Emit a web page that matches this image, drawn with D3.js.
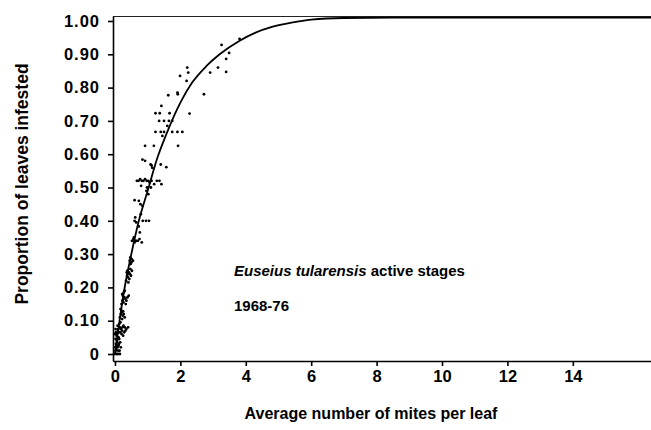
<!DOCTYPE html>
<html>
<head>
<meta charset="utf-8">
<script src="https://cdn.jsdelivr.net/npm/d3@7"></script>
<style>
  body { margin: 0; background: #fff; }
  text { font-family: "Liberation Sans", Arial, sans-serif; font-weight: bold; fill: #000; }
</style>
</head>
<body>
<div id="viz"></div>
<script>
// scatter points: average mites per leaf vs proportion of leaves infested
const miteX = [
  0.00, 0.02, 0.05, 0.08, 0.03, 0.10, 0.06, 0.12, 0.15, 0.01, 0.09, 0.18, 0.07, 0.13, 0.02, 0.16, 0.04, 0.11, 0.14, 0.06,
  0.00, 0.03, 0.06, 0.09, 0.12, 0.15, 0.18, 0.22, 0.26, 0.30, 0.35, 0.40, 0.08, 0.13, 0.20, 0.25, 0.11, 0.05, 0.28, 0.17,
  0.02, 0.10, 0.16, 0.23, 0.32,
  0.15, 0.18, 0.21, 0.24, 0.20, 0.27, 0.17, 0.30, 0.22, 0.25,
  0.20, 0.23, 0.26, 0.29, 0.24, 0.32, 0.27, 0.35, 0.22, 0.38, 0.30, 0.42, 0.25, 0.33,
  0.34, 0.37, 0.40, 0.43, 0.38, 0.46, 0.41, 0.49, 0.36, 0.44, 0.52, 0.39, 0.47,
  0.45, 0.48, 0.51, 0.47, 0.55, 0.50,
  0.52, 0.56, 0.60, 0.65, 0.58, 0.70, 0.75, 0.82, 0.62,
  0.76, 0.73, 0.60, 0.65, 0.85, 0.95, 1.04, 0.62, 0.79,
  0.60, 0.73, 0.78, 0.84, 1.02, 0.96,
  0.67, 0.72, 0.77, 0.82, 0.87, 0.92, 0.97, 1.02, 1.06, 1.12, 1.20, 1.28, 1.36, 1.42, 0.80, 0.98, 1.10,
  0.84, 1.09, 1.14, 1.40, 1.57, 0.92, 1.12,
  0.92, 1.19, 1.93,
  1.45, 1.24, 1.40, 1.50, 1.75, 1.91, 2.06, 1.60, 1.35, 1.50, 1.65, 1.75,
  1.24, 1.37, 1.67, 2.28, 1.42,
  1.63, 1.91, 1.92, 2.72,
  2.19, 1.99, 2.24, 2.21, 2.91, 3.40, 3.15,
  3.40, 3.49, 3.26, 3.81
];
const propY = [
  0.000, 0.010, 0.000, 0.020, 0.030, 0.010, 0.040, 0.030, 0.000, 0.020, 0.000, 0.020, 0.035, 0.045, 0.045, 0.035, 0.015, 0.025, 0.010, 0.025,
  0.060, 0.065, 0.060, 0.070, 0.065, 0.080, 0.075, 0.070, 0.085, 0.080, 0.075, 0.080, 0.085, 0.090, 0.060, 0.055, 0.050, 0.055, 0.065, 0.095,
  0.075, 0.075, 0.065, 0.080, 0.070,
  0.110, 0.120, 0.125, 0.115, 0.130, 0.120, 0.135, 0.110, 0.105, 0.128,
  0.150, 0.160, 0.155, 0.170, 0.175, 0.165, 0.185, 0.160, 0.180, 0.170, 0.190, 0.175, 0.165, 0.150,
  0.220, 0.235, 0.230, 0.245, 0.250, 0.240, 0.215, 0.235, 0.245, 0.225, 0.250, 0.240, 0.255,
  0.280, 0.270, 0.285, 0.290, 0.280, 0.275,
  0.340, 0.345, 0.335, 0.340, 0.350, 0.340, 0.345, 0.335, 0.340,
  0.365, 0.383, 0.400, 0.395, 0.400, 0.400, 0.400, 0.410, 0.420,
  0.462, 0.460, 0.450, 0.445, 0.480, 0.490,
  0.520, 0.520, 0.525, 0.520, 0.520, 0.525, 0.520, 0.520, 0.515, 0.520, 0.510, 0.520, 0.520, 0.510, 0.505, 0.500, 0.500,
  0.584, 0.569, 0.559, 0.569, 0.561, 0.580, 0.566,
  0.625, 0.625, 0.625,
  0.655, 0.667, 0.667, 0.667, 0.667, 0.667, 0.667, 0.685, 0.700, 0.700, 0.700, 0.700,
  0.723, 0.723, 0.723, 0.722, 0.745,
  0.777, 0.785, 0.780, 0.780,
  0.820, 0.835, 0.845, 0.860, 0.845, 0.847, 0.860,
  0.886, 0.904, 0.928, 0.946
];

// fitted curve
const curveX = [0, 0.14, 0.28, 0.5, 0.73, 1.0, 1.3, 1.55, 2.0, 2.36, 2.8, 3.2, 3.8, 4.3, 4.8, 5.4, 6.0, 7.0, 8.5, 16.4];
const curveY = [0, 0.10, 0.19, 0.30, 0.40, 0.49, 0.59, 0.655, 0.755, 0.815, 0.865, 0.90, 0.94, 0.965, 0.982, 0.995, 1.004, 1.009, 1.01, 1.01];

const xTicks = [0, 2, 4, 6, 8, 10, 12, 14];
const yTicks = [0, 0.1, 0.2, 0.3, 0.4, 0.5, 0.6, 0.7, 0.8, 0.9, 1.0];

let margin = {top: 16, right: 0, bottom: 69, left: 113},
    width = 651 - margin.left - margin.right,
    height = 430 - margin.top - margin.bottom;

let svg = d3.select('#viz')
  .append('svg')
  .attr('width', width + margin.left + margin.right)
  .attr('height', height + margin.top + margin.bottom)
  .append('g')
  .attr('transform', `translate(${margin.left}, ${margin.top})`);

let x = d3.scaleLinear().domain([-0.06, 16.39]).range([0, width]);
let y = d3.scaleLinear().domain([-0.021, 1.015]).range([height, 0]);

// top frame line
svg.append('line')
  .attr('x1', 0).attr('x2', width)
  .attr('y1', 0.5).attr('y2', 0.5)
  .attr('stroke', '#222').attr('stroke-width', 1.2);

// y axis
let yAxis = svg.append('g')
  .call(d3.axisLeft(y).tickValues(yTicks).tickSize(5).tickSizeOuter(0).tickPadding(8)
    .tickFormat(d => d === 0 ? '0' : d3.format('.2f')(d)));
yAxis.selectAll('path, line').attr('stroke', '#000').attr('stroke-width', 1.6);
yAxis.selectAll('text').attr('font-size', 16.5).style('letter-spacing', '1px')
  .attr('font-family', null);

// x axis
let xAxis = svg.append('g')
  .attr('transform', `translate(0,${height})`)
  .call(d3.axisBottom(x).tickValues(xTicks).tickSize(5).tickSizeOuter(0).tickPadding(4));
xAxis.selectAll('path, line').attr('stroke', '#000').attr('stroke-width', 1.6);
xAxis.selectAll('text').attr('font-size', 16.5).attr('font-family', null);

// points
svg.selectAll('.dot')
  .data(miteX.map((m, i) => ({m: m, p: propY[i]})))
  .join('circle')
  .attr('class', 'dot')
  .attr('cx', d => x(d.m))
  .attr('cy', d => y(d.p))
  .attr('r', 1.4)
  .attr('fill', '#000');

// curve
let line = d3.line()
  .x(d => x(d[0]))
  .y(d => y(d[1]))
  .curve(d3.curveMonotoneX);

svg.append('path')
  .datum(curveX.map((c, i) => [c, curveY[i]]))
  .attr('d', line)
  .attr('fill', 'none')
  .attr('stroke', '#000')
  .attr('stroke-width', 1.8);

// annotation
let note = svg.append('text')
  .attr('x', 234 - margin.left)
  .attr('y', 276 - margin.top)
  .attr('font-size', 15);
note.append('tspan').attr('font-style', 'italic').text('Euseius tularensis');
note.append('tspan').text(' active stages');

svg.append('text')
  .attr('x', 234 - margin.left)
  .attr('y', 311 - margin.top)
  .attr('font-size', 15)
  .text('1968-76');

// axis titles
svg.append('text')
  .attr('x', 371 - margin.left)
  .attr('y', 419 - margin.top)
  .attr('text-anchor', 'middle')
  .attr('font-size', 16)
  .text('Average number of mites per leaf');

svg.append('text')
  .attr('transform', `translate(${28 - margin.left}, ${184 - margin.top}) rotate(-90)`)
  .attr('text-anchor', 'middle')
  .attr('font-size', 17.5)
  .text('Proportion of leaves infested');
</script>
</body>
</html>
